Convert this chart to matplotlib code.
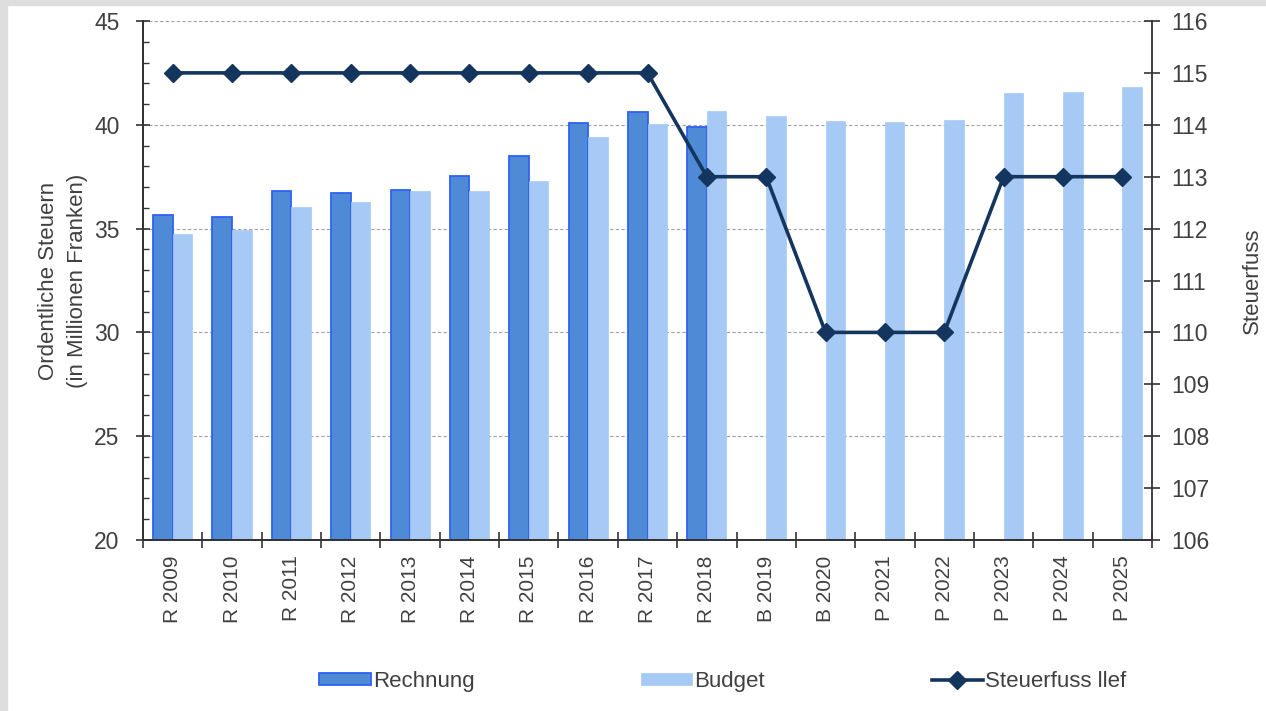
import numpy as np
import matplotlib.pyplot as plt
from matplotlib.patches import Rectangle

plt.rcParams['font.family'] = ['Liberation Sans', 'DejaVu Sans']

labels = ['R 2009', 'R 2010', 'R 2011', 'R 2012', 'R 2013', 'R 2014', 'R 2015',
          'R 2016', 'R 2017', 'R 2018', 'B 2019', 'B 2020', 'P 2021', 'P 2022',
          'P 2023', 'P 2024', 'P 2025']
rechnung = [35.65, 35.55, 36.8, 36.7, 36.85, 37.55, 38.5, 40.1, 40.6, 39.9]
budget = [34.75, 34.95, 36.05, 36.3, 36.8, 36.8, 37.3, 39.4, 40.05, 40.65,
          40.4, 40.2, 40.15, 40.25, 41.55, 41.6, 41.8]
steuerfuss = [115, 115, 115, 115, 115, 115, 115, 115, 115, 113, 113, 110, 110,
              110, 113, 113, 113]

txt = '#404040'
spine_col = '#333333'
c_rech = '#4f8ad6'
c_rech_edge = '#2f62f5'
c_budget = '#a6caf5'
c_line = '#14365e'

fig = plt.figure(figsize=(12.66, 7.11), dpi=100)
ax = fig.add_axes([143 / 1266, 1 - 540 / 711, (1152 - 143) / 1266, (540 - 21) / 711])
ax2 = ax.twinx()

x = np.arange(len(labels))
w = 0.33
ax.bar(x[:len(rechnung)] - w / 2, rechnung, width=w, color=c_rech,
       edgecolor=c_rech_edge, linewidth=1.3, label='Rechnung', zorder=2)
ax.bar(x + w / 2, budget, width=w, color=c_budget, edgecolor=c_budget,
       linewidth=0.5, label='Budget', zorder=2)

ax2.plot(x, steuerfuss, color=c_line, lw=2.6, marker='D', ms=9.5,
         label='Steuerfuss llef', zorder=3)

# left axis
ax.set_xlim(-0.5, len(labels) - 0.5)
ax.set_ylim(20, 45)
ax.set_yticks(np.arange(20, 46, 5))
ax.set_yticks(np.arange(20, 46, 1), minor=True)
ax.yaxis.grid(True, which='major', linestyle=(0, (3, 2)), color='#a0a0a0', lw=0.8)
ax.set_axisbelow(True)
ax.tick_params(axis='y', which='major', direction='inout', length=10, width=1.2,
               color=spine_col, labelsize=16.5, labelcolor=txt, pad=12)
ax.tick_params(axis='y', which='minor', direction='in', length=4, width=1.0,
               color=spine_col)
ax.set_ylabel('Ordentliche Steuern\n(in Millionen Franken)', fontsize=16,
              color=txt, labelpad=4, linespacing=1.55)

# category axis: ticks between groups, labels at the centres
ax.set_xticks(np.arange(-0.5, len(labels), 1))
ax.set_xticklabels([])
ax.set_xticks(x, minor=True)
ax.set_xticklabels(labels, minor=True, rotation=90, fontsize=15, color=txt)
ax.tick_params(axis='x', which='major', direction='inout', length=12, width=1.2,
               color=spine_col)
ax.tick_params(axis='x', which='minor', length=0, pad=11)

# right axis
ax2.set_ylim(106, 116)
ax2.set_yticks(np.arange(106, 117, 1))
ax2.tick_params(axis='y', direction='inout', length=12, width=1.2,
                color=spine_col, labelsize=16.5, labelcolor=txt, pad=8)
ax2.set_ylabel('Steuerfuss', fontsize=16, color=txt, labelpad=23)

for a in (ax, ax2):
    a.spines['top'].set_visible(False)
    for s in ('left', 'right', 'bottom'):
        a.spines[s].set_color(spine_col)
        a.spines[s].set_linewidth(1.3)
ax.spines['right'].set_visible(False)

h1, l1 = ax.get_legend_handles_labels()
h2, l2 = ax2.get_legend_handles_labels()
fig.legend(h1 + h2, l1 + l2, loc='center', bbox_to_anchor=(0.571, 0.042),
           ncol=3, frameon=False, fontsize=16, handlelength=2.3,
           handleheight=0.45, handletextpad=0.1, columnspacing=7.5,
           labelcolor=txt)

# light grey frame on the left and top edge
fig.patches.append(Rectangle((0, 0), 7 / 1266, 1, transform=fig.transFigure,
                             color='#dedede', zorder=0))
fig.patches.append(Rectangle((0, 1 - 5 / 711), 1, 5 / 711,
                             transform=fig.transFigure, color='#dedede', zorder=0))

fig.savefig('out.png', dpi=100)
